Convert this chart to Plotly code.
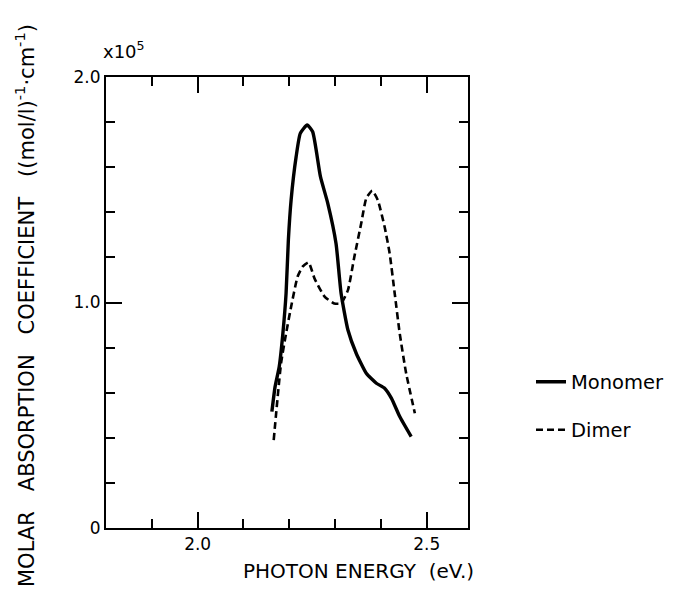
import plotly.graph_objects as go

# Data (photon energy in eV, absorption in units of 1e5 (mol/l)^-1 cm^-1)
mono_x = [2.162, 2.169, 2.178, 2.186, 2.193, 2.198, 2.204, 2.215, 2.224, 2.239,
          2.251, 2.268, 2.284, 2.302, 2.313, 2.328, 2.346, 2.368, 2.390, 2.408,
          2.423, 2.441, 2.466]
mono_y = [0.516, 0.627, 0.715, 0.863, 1.041, 1.277, 1.455, 1.647, 1.750, 1.787,
          1.757, 1.558, 1.440, 1.262, 1.041, 0.878, 0.775, 0.686, 0.642, 0.620,
          0.575, 0.494, 0.405]

dimer_x = [2.166, 2.182, 2.193, 2.204, 2.218, 2.229, 2.242, 2.255, 2.277, 2.298,
           2.313, 2.328, 2.342, 2.357, 2.368, 2.381, 2.393, 2.408, 2.419, 2.430,
           2.441, 2.455, 2.474]
dimer_y = [0.390, 0.730, 0.863, 0.981, 1.114, 1.159, 1.178, 1.107, 1.026, 0.996,
           0.996, 1.055, 1.203, 1.351, 1.462, 1.496, 1.455, 1.336, 1.218, 1.041,
           0.863, 0.686, 0.509]

y_tickvals = [0, 1.0, 2.0]
y_ticktext = ["0", "1.0", "2.0"]
x_tickvals = [2.0, 2.5]
x_ticktext = ["2.0", "2.5"]

FONT = "DejaVu Sans"
NB = "\u00a0"

# page is rendered with an 8px body margin; work in figure coordinates
OFF = 8
L, R, T, B = 106 - OFF, 468 - OFF, 77 - OFF, 528 - OFF
W, H = 678 - OFF, 602 - OFF
PW, PH = R - L, B - T


def px(xp):
    return (xp - OFF - L) / PW


def py(yp):
    return (B - (yp - OFF)) / PH


fig = go.Figure()
fig.add_trace(go.Scatter(x=mono_x, y=mono_y, mode="lines", name="Monomer", showlegend=True,
                         line=dict(color="black", width=3.4, shape="spline", smoothing=0.5),
                         legend="legend"))
fig.add_trace(go.Scatter(x=dimer_x, y=dimer_y, mode="lines", name="Dimer", showlegend=True,
                         line=dict(color="black", width=2.6, dash="7px,4px", shape="spline", smoothing=0.5),
                         legend="legend2"))

axis_common = dict(showgrid=False, zeroline=False, showline=True, linecolor="black",
                   linewidth=2, ticks="inside", tickcolor="black", tickwidth=2,
                   mirror="allticks", tickfont=dict(family=FONT, size=17, color="black"))

fig.update_xaxes(range=[1.8, 2.59], tickmode="array", tickvals=x_tickvals, ticktext=x_ticktext,
                 ticklen=16,
                 minor=dict(tickmode="linear", tick0=0, dtick=0.1, ticks="inside", ticklen=9,
                            tickcolor="black", tickwidth=2),
                 **axis_common)
fig.update_yaxes(range=[0, 2.0], tickmode="array", tickvals=y_tickvals, ticktext=y_ticktext,
                 ticklen=16,
                 minor=dict(tickmode="linear", tick0=0, dtick=0.2, ticks="inside", ticklen=9,
                            tickcolor="black", tickwidth=2),
                 **axis_common)

fig.update_layout(
    width=W, height=H,
    margin=dict(l=L, r=W - R, t=T, b=H - B, autoexpand=False),
    plot_bgcolor="white", paper_bgcolor="white",
    showlegend=True,
    font=dict(family=FONT, size=17, color="black"),
    legend=dict(x=px(531), y=py(382), xanchor="left", yanchor="middle",
                font=dict(family=FONT, size=19.5), bgcolor="rgba(0,0,0,0)"),
    legend2=dict(x=px(531), y=py(430), xanchor="left", yanchor="middle",
                 font=dict(family=FONT, size=19.5), bgcolor="rgba(0,0,0,0)"),
    annotations=[
        dict(text=f"PHOTON{NB}ENERGY{NB}{NB}(eV.)", xref="paper", yref="paper",
             x=px(358), y=py(571), xanchor="center", yanchor="middle",
             showarrow=False, font=dict(family=FONT, size=20)),
        dict(text=f"MOLAR{NB*3}ABSORPTION{NB*3}COEFFICIENT{NB*3}((mol/l)<sup>-1</sup>\u00b7cm<sup>-1</sup>)",
             xref="paper", yref="paper", textangle=-90,
             x=px(25), y=py(306), xanchor="center", yanchor="middle",
             showarrow=False, font=dict(family=FONT, size=21)),
        dict(text="x10<sup>5</sup>", xref="paper", yref="paper",
             x=px(124), y=py(50), xanchor="center", yanchor="middle",
             showarrow=False, font=dict(family=FONT, size=18)),
    ],
)

fig.write_html("out.html")
